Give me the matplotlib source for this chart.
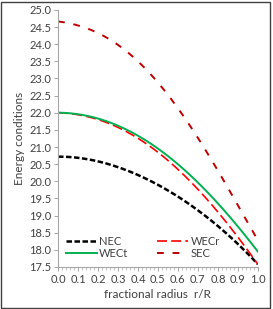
import numpy as np
import matplotlib.pyplot as plt
from matplotlib.patches import Rectangle
from matplotlib.ticker import MultipleLocator

plt.rcParams['font.family'] = ['Lato', 'DejaVu Sans']

# data
r = [0.0, 0.1, 0.2, 0.3, 0.4, 0.5, 0.6, 0.7, 0.8, 0.9, 1.0]
nec = [20.72, 20.68, 20.58, 20.42, 20.18, 19.90, 19.55, 19.15, 18.70, 18.17, 17.58]
wecr = [22.00, 21.95, 21.80, 21.57, 21.25, 20.85, 20.35, 19.77, 19.10, 18.37, 17.58]
wect = [22.00, 21.96, 21.83, 21.62, 21.33, 20.95, 20.50, 19.97, 19.35, 18.68, 17.95]
sec = [24.65, 24.57, 24.33, 23.97, 23.48, 22.87, 22.14, 21.30, 20.32, 19.25, 18.30]

# smooth curves like Excel's smoothed lines
rr = np.linspace(0, 1, 200)
def smooth(y):
    c = np.polyfit(r, y, 4)
    return np.polyval(c, rr)

fig = plt.figure(figsize=(2.73, 3.09), dpi=100)
ax = fig.add_axes([0.2125, 0.136, 0.732, 0.832])

ax.plot(rr, smooth(nec), color='black', lw=1.8, dashes=(2.2, 1.0), label='NEC')
ax.plot(rr, smooth(wecr), color='#FF0000', lw=1.2, dashes=(6, 2.5), label='WECr')
ax.plot(rr, smooth(wect), color='#00B050', lw=1.4, label='WECt')
ax.plot(rr, smooth(sec), color='#C00000', lw=1.4, dashes=(3.5, 4.5), label='SEC')

ax.set_xlim(0, 1.0)
ax.set_ylim(17.5, 25.0)
ax.xaxis.set_major_locator(MultipleLocator(0.1))
ax.xaxis.set_minor_locator(MultipleLocator(0.02))
ax.yaxis.set_major_locator(MultipleLocator(0.5))
ax.xaxis.set_major_formatter(plt.FormatStrFormatter('%.1f'))
ax.yaxis.set_major_formatter(plt.FormatStrFormatter('%.1f'))

for s in ['top', 'right']:
    ax.spines[s].set_visible(False)
for s in ['left', 'bottom']:
    ax.spines[s].set_color('#A6A6A6')
    ax.spines[s].set_linewidth(0.8)
ax.tick_params(axis='both', which='major', length=3, width=0.7, color='#A6A6A6',
               labelsize=8, labelcolor='#404040', pad=2)
ax.tick_params(axis='x', which='minor', length=2, width=0.5, color='#A6A6A6')
ax.tick_params(axis='y', which='minor', left=False)

ax.set_xlabel('fractional radius  r/R', fontsize=8.5, color='#404040', labelpad=3)
ax.set_ylabel('Energy conditions', fontsize=8.5, color='#404040', labelpad=3)

h, l = ax.get_legend_handles_labels()
order = [0, 2, 1, 3]
ax.legend([h[i] for i in order], [l[i] for i in order], ncol=2, loc='lower left',
          bbox_to_anchor=(0.0, 0.0), frameon=False, fontsize=8, handlelength=2.8,
          handletextpad=0.2, columnspacing=2.6, labelspacing=0.15, borderaxespad=0.3,
          labelcolor='#404040')

# outer frame around the chart
fig.patches.append(Rectangle((0.002, 0.002), 0.986, 0.99, transform=fig.transFigure,
                             fill=False, edgecolor='#404040', lw=1.0))

fig.savefig('out.png', dpi=100)
